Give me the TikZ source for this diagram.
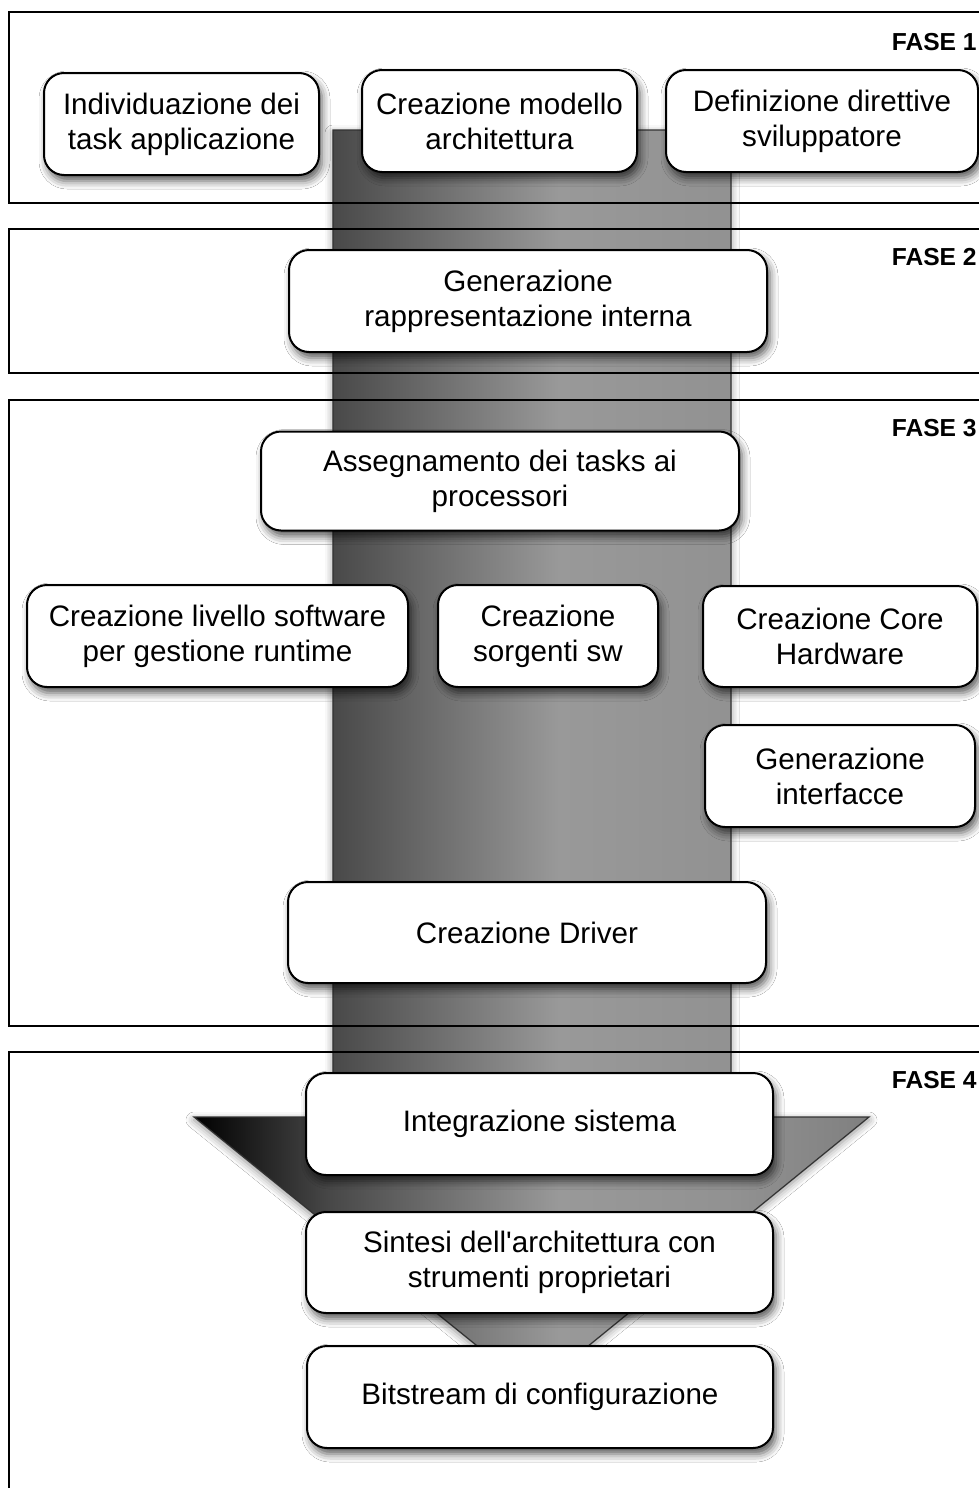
\documentclass[tikz,border=0pt]{standalone}
\usepackage{fontspec}
\setmainfont{Liberation Sans}
\usetikzlibrary{shadows.blur}

% horizontal grey ramp for the big flow arrow
\pgfdeclarehorizontalshading{arrowshade}{100bp}{%
  color(0bp)=(black); color(25bp)=(black); color(35bp)=(black!72);
  color(52bp)=(black!40); color(65bp)=(black!43); color(75bp)=(black!50);
  color(100bp)=(black!50)}

\tikzset{
  phaseframe/.style={draw=black, line width=1pt},
  phaselabel/.style={font=\bfseries\fontsize{12.3}{14}\selectfont, anchor=east, inner sep=0pt},
  stepbox/.style={draw=black, fill=white, line width=1pt, rounded corners=10pt,
    align=center, inner sep=0pt, font=\fontsize{14.8}{17.5}\selectfont,
    blur shadow={shadow xshift=1.5pt, shadow yshift=-3pt, shadow blur radius=4pt, shadow opacity=65}},
  flowarrow/.style={draw=black!80, line width=0.6pt, shade, shading=arrowshade,
    blur shadow={shadow xshift=0pt, shadow yshift=-1.5pt, shadow blur radius=4pt, shadow opacity=45}}
}

\begin{document}
\begin{tikzpicture}[x=0.5pt, y=-0.5pt]
\useasboundingbox (0,0) rectangle (979,1488);
\fill[white] (0,0) rectangle (979,1488);

% shaft and head of the flow arrow
\coordinate (s1) at (333,130);
\coordinate (s2) at (731,130);
\coordinate (s3) at (731,1117);
\coordinate (h1) at (869,1117);
\coordinate (tip) at (533,1391);
\coordinate (h2) at (194,1117);
\coordinate (s4) at (333,1117);
\path[flowarrow] (s1) -- (s2) -- (s3) -- (h1) -- (tip) -- (h2) -- (s4) -- cycle;

% phase frames
\draw[phaseframe] (1000,12) -- (9,12) -- (9,203) -- (1000,203);
\draw[phaseframe] (1000,229) -- (9,229) -- (9,373) -- (1000,373);
\draw[phaseframe] (1000,400) -- (9,400) -- (9,1026) -- (1000,1026);
\draw[phaseframe] (1000,1052) -- (9,1052) -- (9,1500);

\node[phaselabel] (f1) at (977,42) {FASE 1};
\node[phaselabel] (f2) at (977,257) {FASE 2};
\node[phaselabel] (f3) at (977,428) {FASE 3};
\node[phaselabel] (f4) at (977,1080) {FASE 4};

% phase 1
\node[stepbox, minimum width=137.5pt, minimum height=51pt] (n1) at (181.5,124) {Individuazione dei\\task applicazione};
\node[stepbox, minimum width=137.5pt, minimum height=51pt] (n2) at (499.5,121) {Creazione modello\\architettura};
\node[stepbox, minimum width=156pt, minimum height=51pt] (n3) at (822,121) {Definizione direttive\\sviluppatore};

% phase 2
\node[stepbox, minimum width=239pt, minimum height=51pt] (n4) at (528,301) {Generazione\\rappresentazione interna};

% phase 3
\node[stepbox, minimum width=239pt, minimum height=49.5pt] (n5) at (500,481) {Assegnamento dei tasks ai\\processori};
\node[stepbox, minimum width=190.5pt, minimum height=51pt] (n6) at (217.5,636) {Creazione livello software\\per gestione runtime};
\node[stepbox, minimum width=110pt, minimum height=51pt] (n7) at (548,636) {Creazione\\sorgenti sw};
\node[stepbox, minimum width=137pt, minimum height=50.5pt] (n8) at (840,636.5) {Creazione Core\\Hardware};
\node[stepbox, minimum width=135pt, minimum height=51pt] (n9) at (840,776) {Generazione\\interfacce};
\node[stepbox, minimum width=239pt, minimum height=50.5pt] (n10) at (527,932.5) {Creazione Driver};

% phase 4
\node[stepbox, minimum width=233.5pt, minimum height=51pt] (n11) at (539.5,1124) {Integrazione sistema};
\node[stepbox, minimum width=233.5pt, minimum height=50.5pt] (n12) at (539.5,1262.5) {Sintesi dell\textquotesingle architettura con\\strumenti proprietari};
\node[stepbox, minimum width=233pt, minimum height=51pt] (n13) at (540,1397) {Bitstream di configurazione};
\end{tikzpicture}
\end{document}
